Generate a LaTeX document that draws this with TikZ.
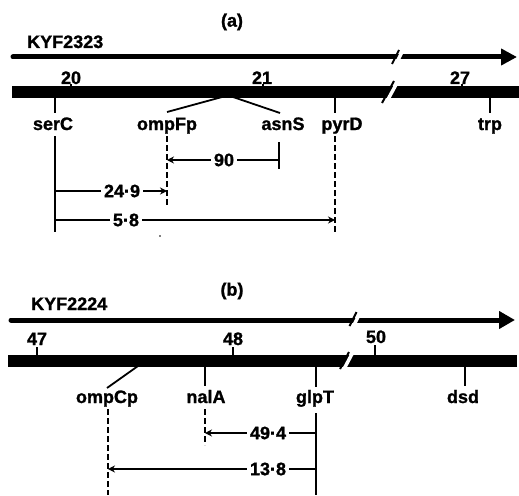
\documentclass[tikz,border=0pt]{standalone}
\usepackage{fontspec}
\setmainfont[BoldFeatures={FakeBold=1.2}]{Liberation Sans}
\usetikzlibrary{arrows.meta}
\tikzset{
  lbl/.style={font=\bfseries\fontsize{18}{18}\selectfont, inner sep=0pt},
  dimlbl/.style={lbl, inner sep=3pt},
  axis/.style={line width=5pt, line cap=round},
  bar/.style={line width=12pt},
  tickln/.style={line width=1.8pt},
  dline/.style={line width=1.8pt, dash pattern=on 5.5pt off 3.5pt},
  dimln/.style={line width=1.6pt},
  dimarrow/.style={dimln, -{Stealth[length=7pt,width=7pt]}},
  brk/.style={white, line width=3.5pt},
  brkline/.style={line width=2pt}
}
\begin{document}
\begin{tikzpicture}[x=1pt,y=-1pt]
\fill[white] (0,0) rectangle (519,495);
\useasboundingbox (0,0) rectangle (519,495);

% ---------------- (a) ----------------
\node[lbl] (ta) at (232,22) {(a)};
\node[lbl,anchor=base west] (kyfa) at (27,48) {KYF2323};
\coordinate (axa0) at (13,57);
\coordinate (axa1) at (517,57);
\draw[axis,-{Triangle[length=16pt,width=16pt]}] (axa0) -- (axa1);
\draw[brk] (396,64) -- (403,50);
\draw[brkline] (392,64) -- (399,50);

\coordinate (bara0) at (12,92);
\coordinate (bara1) at (519,92);
\draw[bar] (bara0) -- (bara1);
\draw[brk] (386,103) -- (398,81);
\draw[brkline] (382,103) -- (394,81);

% scale numbers
\node[lbl,anchor=base] (n20) at (71,84) {20};
\node[lbl,anchor=base] (n21) at (262,84) {21};
\node[lbl,anchor=base] (n27) at (460,84) {27};
\coordinate (t20) at (71,84);  \draw[tickln] (t20) -- (71,88);
\coordinate (t21) at (263,84); \draw[tickln] (t21) -- (263,88);
\coordinate (t27) at (462,84); \draw[tickln] (t27) -- (462,88);

% markers below bar
\coordinate (mserC) at (55,97);  \draw[tickln] (mserC) -- (55,113);
\coordinate (mpyrD) at (335,97); \draw[tickln] (mpyrD) -- (335,113);
\coordinate (mtrp) at (490,97);  \draw[tickln] (mtrp) -- (490,113);
\coordinate (fanL) at (222,97);
\coordinate (fanR) at (233,97);
\coordinate (fanLe) at (167,112);
\coordinate (fanRe) at (280,113);
\draw[tickln] (fanL) -- (fanLe);
\draw[tickln] (fanR) -- (fanRe);

% gene labels
\node[lbl,anchor=base] (serC) at (53,130) {serC};
\node[lbl,anchor=base] (ompFp) at (167,130) {ompFp};
\node[lbl,anchor=base] (asnS) at (283,130) {asnS};
\node[lbl,anchor=base] (pyrD) at (342,130) {pyrD};
\node[lbl,anchor=base] (trp) at (490,130) {trp};

% vertical lines
\coordinate (vsT) at (55,136);  \coordinate (vsB) at (55,232);
\coordinate (voT) at (167,136); \coordinate (voB) at (167,206);
\coordinate (vaT) at (279,142); \coordinate (vaB) at (279,169);
\coordinate (vpT) at (335,136); \coordinate (vpB) at (335,233);
\draw[tickln] (vsT) -- (vsB);
\draw[dline] (voT) -- (voB);
\draw[tickln] (vaT) -- (vaB);
\draw[dline] (vpT) -- (vpB);

% distances
\node[dimlbl] (d90) at (224,160) {90};
\draw[dimln] (d90.east -| vaT) -- (d90.east);
\draw[dimarrow] (d90.west) -- (d90.west -| voT);

\node[dimlbl] (d249) at (122,191) {24·9};
\draw[dimln] (d249.west -| vsT) -- (d249.west);
\draw[dimarrow] (d249.east) -- (d249.east -| voT);

\node[dimlbl] (d58) at (126,220) {5·8};
\draw[dimln] (d58.west -| vsT) -- (d58.west);
\draw[dimarrow] (d58.east) -- (d58.east -| vpT);

\fill (160,236) circle (0.9);

% ---------------- (b) ----------------
\node[lbl] (tb) at (232,291) {(b)};
\node[lbl,anchor=base west] (kyfb) at (31,310) {KYF2224};
\coordinate (axb0) at (11,320);
\coordinate (axb1) at (515,320);
\draw[axis,-{Triangle[length=16pt,width=17pt]}] (axb0) -- (axb1);
\draw[brk] (353.5,326) -- (360.5,312);
\draw[brkline] (349.5,326) -- (356.5,312);

\coordinate (barb0) at (8,361);
\coordinate (barb1) at (517,361);
\draw[bar] (barb0) -- (barb1);
\draw[brk] (344,369) -- (353,352);
\draw[brkline] (340,369) -- (349,352);

\node[lbl,anchor=base] (n47) at (37,345) {47};
\node[lbl,anchor=base] (n48) at (233,345) {48};
\node[lbl,anchor=base] (n50) at (376,343) {50};
\coordinate (t47) at (37,347);  \draw[tickln] (t47) -- (37,356);
\coordinate (t48) at (233,347); \draw[tickln] (t48) -- (233,356);
\coordinate (t50) at (375,345); \draw[tickln] (t50) -- (375,356);

\coordinate (mompC) at (138,366); \coordinate (mompCe) at (107,388);
\draw[tickln] (mompC) -- (mompCe);
\coordinate (mnalA) at (205,366); \draw[tickln] (mnalA) -- (205,386);
\coordinate (mglpT) at (316,366); \draw[tickln] (mglpT) -- (316,387);
\coordinate (mdsd) at (465,366);  \draw[tickln] (mdsd) -- (465,386);

\node[lbl,anchor=base] (ompCp) at (107,403) {ompCp};
\node[lbl,anchor=base] (nalA) at (206,403) {nalA};
\node[lbl,anchor=base] (glpT) at (315,403) {glpT};
\node[lbl,anchor=base] (dsd) at (463,403) {dsd};

\coordinate (vcT) at (108,409); \coordinate (vcB) at (108,495);
\coordinate (vnT) at (205,409); \coordinate (vnB) at (205,445);
\coordinate (vgT) at (316,413); \coordinate (vgB) at (316,495);
\draw[dline] (vcT) -- (vcB);
\draw[dline] (vnT) -- (vnB);
\draw[tickln] (vgT) -- (vgB);

\node[dimlbl] (d494) at (268,433) {49·4};
\draw[dimln] (d494.east -| vgT) -- (d494.east);
\draw[dimarrow] (d494.west) -- (d494.west -| vnT);

\node[dimlbl] (d138) at (268,469) {13·8};
\draw[dimln] (d138.east -| vgT) -- (d138.east);
\draw[dimarrow] (d138.west) -- (d138.west -| vcT);
\end{tikzpicture}
\end{document}
